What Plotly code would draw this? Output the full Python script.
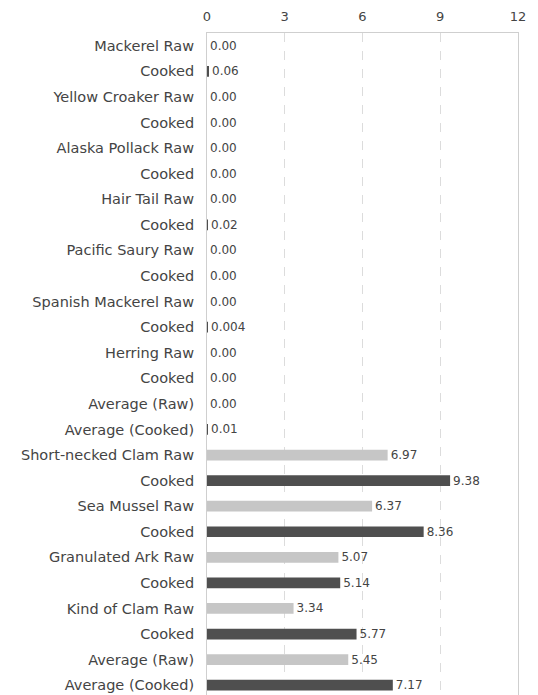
import plotly.graph_objects as go

labels = ["Mackerel Raw", "Cooked", "Yellow Croaker Raw", "Cooked", "Alaska Pollack Raw", "Cooked",
          "Hair Tail Raw", "Cooked", "Pacific Saury Raw", "Cooked", "Spanish Mackerel Raw", "Cooked",
          "Herring Raw", "Cooked", "Average (Raw)", "Average (Cooked)",
          "Short-necked Clam Raw", "Cooked", "Sea Mussel Raw", "Cooked", "Granulated Ark Raw", "Cooked",
          "Kind of Clam Raw", "Cooked", "Average (Raw)", "Average (Cooked)"]
values = [0.00, 0.06, 0.00, 0.00, 0.00, 0.00, 0.00, 0.02, 0.00, 0.00, 0.00, 0.004, 0.00, 0.00, 0.00, 0.01,
          6.97, 9.38, 6.37, 8.36, 5.07, 5.14, 3.34, 5.77, 5.45, 7.17]
value_text = ["0.00", "0.06", "0.00", "0.00", "0.00", "0.00", "0.00", "0.02", "0.00", "0.00", "0.00", "0.004",
              "0.00", "0.00", "0.00", "0.01", "6.97", "9.38", "6.37", "8.36", "5.07", "5.14", "3.34", "5.77",
              "5.45", "7.17"]
kind = ["raw", "cooked"] * 13
x_ticks = [0, 3, 6, 9, 12]

colors = {"raw": "#c6c6c6", "cooked": "#4f4f4f"}
positions = list(range(len(labels)))

fig = go.Figure(go.Bar(
    x=values, y=positions, orientation="h",
    marker=dict(color=[colors[k] for k in kind], line=dict(width=0)),
    width=0.42,
    text=value_text, textposition="outside", cliponaxis=False, constraintext="none",
    textfont=dict(family="DejaVu Sans", size=12, color="#444"),
))

fig.update_layout(
    width=538, height=695,
    margin=dict(l=199, r=28, t=25, b=5, autoexpand=False),
    plot_bgcolor="white", paper_bgcolor="white",
    showlegend=False,
    font=dict(family="DejaVu Sans", size=12, color="#444"),
)
fig.update_xaxes(
    side="top", range=[0, 12], tickvals=x_ticks, ticktext=[str(t) for t in x_ticks],
    showgrid=True, gridcolor="#dcdcdc", griddash="dash", gridwidth=1,
    showline=True, linecolor="#cfcfcf", mirror=True, zeroline=False, automargin=False,
    ticks="", tickfont=dict(size=13, color="#444"), ticklabelstandoff=6,
)
fig.update_yaxes(
    range=[len(labels) - 0.5, -0.5], tickvals=positions, ticktext=labels,
    showgrid=False, showline=True, linecolor="#cfcfcf", mirror=True, zeroline=False, automargin=False,
    ticks="", tickfont=dict(size=14.5, color="#444"), ticklabelstandoff=9,
)
fig.write_html("out.html")
